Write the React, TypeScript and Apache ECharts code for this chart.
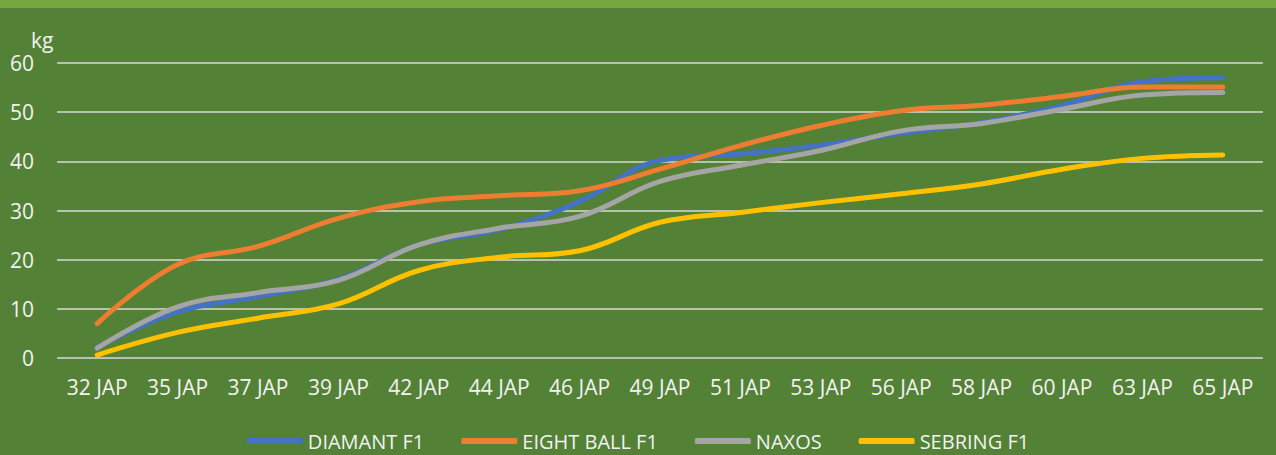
import React, { useEffect, useRef } from "react";
import * as echarts from "echarts";

const categories = ["32 JAP", "35 JAP", "37 JAP", "39 JAP", "42 JAP", "44 JAP", "46 JAP", "49 JAP", "51 JAP", "53 JAP", "56 JAP", "58 JAP", "60 JAP", "63 JAP", "65 JAP"];
const diamant = [2.2, 9.4, 12.5, 16, 23, 26.1, 31.8, 40.2, 41.5, 43.3, 45.7, 47.9, 51.3, 56.2, 57.0];
const eightBall = [7.0, 19.0, 22.7, 28.4, 31.8, 33.0, 34.0, 38.4, 43.2, 47.3, 50.3, 51.4, 53.2, 55.1, 55.1];
const naxos = [2.0, 10.4, 13.3, 15.8, 23, 26.4, 28.8, 35.9, 39.2, 42.2, 46.2, 47.7, 50.6, 53.5, 54.0];
const sebring = [0.6, 5.2, 8.1, 11.0, 17.8, 20.5, 21.8, 27.6, 29.6, 31.6, 33.4, 35.4, 38.4, 40.6, 41.3];

const seriesNames = ["DIAMANT F1", "EIGHT BALL F1", "NAXOS", "SEBRING F1"];
const seriesColors = ["#4472C4", "#ED7D31", "#A5A5A5", "#FFC000"];
const seriesData = [diamant, eightBall, naxos, sebring];
const yTicks = { min: 0, max: 60, interval: 10 };

const FONT = "'Open Sans', sans-serif";

export default function App() {
  const ref = useRef<HTMLDivElement>(null);
  useEffect(() => {
    document.body.style.margin = "0";
    const chart = echarts.init(ref.current!, undefined, { renderer: "svg" });
    chart.setOption({
      animation: false,
      backgroundColor: "#538135",
      textStyle: { fontFamily: FONT },
      graphic: [
        { type: "rect", left: 0, top: 0, shape: { width: 1276, height: 8 }, style: { fill: "#77A741" } },
        { type: "text", left: 31, top: 29, style: { text: "kg", fill: "#F2F2F2", font: `21px ${FONT}` } },
      ],
      grid: { left: 57, right: 13, top: 63, bottom: 97, containLabel: false },
      legend: {
        top: 430,
        left: "center",
        padding: 0,
        icon: "roundRect",
        itemWidth: 56,
        itemHeight: 6,
        itemGap: 37,
        textStyle: { color: "#F2F2F2", fontSize: 20, lineHeight: 22, fontFamily: FONT },
        data: seriesNames,
      },
      xAxis: {
        type: "category",
        data: categories,
        boundaryGap: true,
        axisLine: { show: false },
        axisTick: { show: false },
        axisLabel: { color: "#F2F2F2", fontSize: 21, fontFamily: FONT, margin: 18, interval: 0 },
      },
      yAxis: {
        type: "value",
        min: yTicks.min,
        max: yTicks.max,
        interval: yTicks.interval,
        axisLine: { show: false },
        axisTick: { show: false },
        axisLabel: { color: "#F2F2F2", fontSize: 21, fontFamily: FONT, margin: 23 },
        splitLine: { lineStyle: { color: "#D9D9D9", width: 1.5 } },
      },
      series: seriesNames.map((name, i) => ({
        name,
        type: "line",
        data: seriesData[i],
        smooth: 0.4,
        showSymbol: false,
        symbol: "none",
        itemStyle: { color: seriesColors[i] },
        lineStyle: { color: seriesColors[i], width: 5, cap: "round", join: "round" },
      })),
    });
    return () => chart.dispose();
  }, []);
  return <div ref={ref} style={{ width: 1276, height: 455 }} />;
}
